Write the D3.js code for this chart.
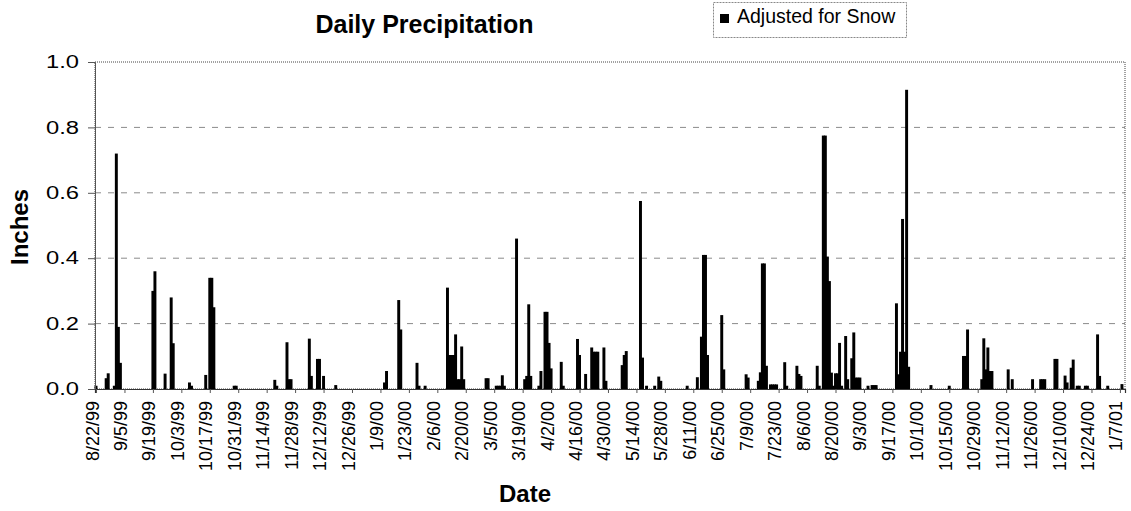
<!DOCTYPE html>
<html>
<head>
<meta charset="utf-8">
<script src="https://cdn.jsdelivr.net/npm/d3@7"></script>
<style>
  html, body { margin: 0; padding: 0; background: #fff; }
  svg { display: block; }
  text { font-family: "Liberation Sans", Arial, sans-serif; fill: #000; }
</style>
</head>
<body>
<svg id="chart" width="1131" height="511"></svg>
<script>
// ---- data ----
const dates = [
  "8/22/99","8/27/99","8/28/99","8/31/99","9/1/99","9/2/99","9/3/99",
  "9/19/99","9/20/99","9/25/99","9/28/99","9/29/99","10/7/99","10/8/99",
  "10/15/99","10/17/99","10/18/99","10/19/99","10/29/99","10/30/99",
  "11/18/99","11/19/99","11/24/99","11/25/99","11/26/99",
  "12/5/99","12/6/99","12/9/99","12/10/99","12/12/99","12/18/99",
  "1/11/00","1/12/00","1/18/00","1/19/00","1/27/00","1/28/00","1/31/00",
  "2/11/00","2/12/00","2/13/00","2/14/00","2/15/00","2/16/00","2/17/00","2/18/00","2/19/00",
  "3/1/00","3/2/00","3/6/00","3/7/00","3/8/00","3/9/00","3/10/00","3/16/00",
  "3/20/00","3/21/00","3/22/00","3/23/00","3/27/00","3/28/00","3/30/00","3/31/00",
  "4/1/00","4/2/00","4/7/00","4/8/00","4/15/00","4/16/00","4/19/00",
  "4/22/00","4/23/00","4/24/00","4/25/00","4/28/00","4/29/00",
  "5/7/00","5/8/00","5/9/00","5/16/00","5/17/00","5/19/00","5/23/00","5/25/00","5/26/00",
  "6/8/00","6/13/00","6/15/00","6/16/00","6/17/00","6/18/00","6/25/00","6/26/00",
  "7/7/00","7/8/00","7/13/00","7/14/00","7/15/00","7/16/00","7/17/00",
  "7/19/00","7/20/00","7/21/00","7/22/00","7/26/00","7/27/00",
  "8/1/00","8/2/00","8/3/00","8/11/00","8/12/00","8/14/00","8/15/00","8/16/00","8/17/00",
  "8/18/00","8/19/00","8/20/00","8/21/00","8/22/00","8/23/00","8/25/00","8/26/00",
  "8/28/00","8/29/00","8/30/00","8/31/00","9/1/00","9/5/00","9/7/00","9/8/00","9/9/00",
  "9/19/00","9/20/00","9/21/00","9/22/00","9/23/00","9/24/00","9/25/00",
  "10/6/00","10/15/00","10/22/00","10/23/00","10/24/00",
  "10/31/00","11/1/00","11/2/00","11/3/00","11/4/00","11/5/00","11/13/00","11/15/00",
  "11/25/00","11/29/00","11/30/00","12/1/00","12/6/00","12/7/00","12/11/00","12/12/00",
  "12/14/00","12/15/00","12/17/00","12/18/00","12/21/00","12/22/00","12/27/00","12/28/00",
  "1/1/01","1/8/01"
];
const inches = [
  0.01,0.033,0.048,0.01,0.72,0.19,0.08,
  0.30,0.36,0.047,0.28,0.14,0.02,0.01,
  0.043,0.34,0.34,0.25,0.01,0.01,
  0.028,0.01,0.143,0.03,0.03,
  0.154,0.04,0.092,0.092,0.04,0.012,
  0.02,0.055,0.272,0.182,0.08,0.01,0.01,
  0.31,0.104,0.104,0.104,0.167,0.03,0.03,0.13,0.03,
  0.033,0.033,0.01,0.01,0.01,0.042,0.01,0.46,
  0.03,0.04,0.259,0.04,0.01,0.055,0.236,0.236,
  0.141,0.063,0.083,0.01,0.153,0.104,0.046,
  0.127,0.114,0.114,0.114,0.127,0.025,
  0.073,0.104,0.116,0.575,0.096,0.01,0.01,0.038,0.025,
  0.01,0.036,0.16,0.41,0.41,0.104,0.226,0.06,
  0.045,0.035,0.025,0.051,0.384,0.384,0.071,
  0.014,0.014,0.014,0.014,0.082,0.01,
  0.071,0.046,0.04,0.071,0.01,0.775,0.775,0.405,0.33,
  0.05,0.01,0.048,0.048,0.141,0.01,0.162,0.03,
  0.094,0.173,0.035,0.035,0.035,0.01,0.012,0.012,0.012,
  0.262,0.045,0.114,0.52,0.114,0.915,0.068,
  0.012,0.01,0.101,0.101,0.182,
  0.03,0.155,0.06,0.127,0.055,0.055,0.06,0.03,
  0.03,0.03,0.03,0.03,0.092,0.092,0.041,0.02,
  0.065,0.09,0.01,0.01,0.01,0.01,0.167,0.04,
  0.01,0.015
];
const tickLabels = [
  "8/22/99","9/5/99","9/19/99","10/3/99","10/17/99","10/31/99","11/14/99","11/28/99",
  "12/12/99","12/26/99","1/9/00","1/23/00","2/6/00","2/20/00","3/5/00","3/19/00",
  "4/2/00","4/16/00","4/30/00","5/14/00","5/28/00","6/11/00","6/25/00","7/9/00",
  "7/23/00","8/6/00","8/20/00","9/3/00","9/17/00","10/1/00","10/15/00","10/29/00",
  "11/12/00","11/26/00","12/10/00","12/24/00","1/7/01"
];
const yTickValues = [0, 0.2, 0.4, 0.6, 0.8, 1.0];
const seriesName = "Adjusted for Snow";
const chartTitle = "Daily Precipitation";

// ---- layout ----
const svg = d3.select("#chart");
const pLeft = 95, pRight = 1125, pTop = 62, pBottom = 389;
const parse = d3.utcParse("%m/%d/%y");

const x = d3.scaleUtc()
  .domain([new Date(Date.UTC(1999, 7, 21, 12)), new Date(Date.UTC(2001, 0, 9, 12))])
  .range([pLeft, pRight]);
const y = d3.scaleLinear().domain([0, 1]).range([pBottom, pTop]);

const dayPx = x(new Date(Date.UTC(2000,0,2))) - x(new Date(Date.UTC(2000,0,1)));
const barW = dayPx * 1.45;

// gridlines
svg.append("g")
  .selectAll("line")
  .data(yTickValues.filter(v => v > 0 && v < 1))
  .join("line")
  .attr("x1", pLeft).attr("x2", pRight)
  .attr("y1", d => y(d)).attr("y2", d => y(d))
  .attr("stroke", "#8a8a8a").attr("stroke-width", 1)
  .attr("stroke-dasharray", "6,7");

// plot border (top/right dotted)
svg.append("rect")
  .attr("x", pLeft).attr("y", pTop)
  .attr("width", pRight - pLeft).attr("height", pBottom - pTop)
  .attr("fill", "none").attr("stroke", "#444")
  .attr("stroke-width", 1).attr("stroke-dasharray", "1,1");

// bars
const data = dates.map((d, i) => ({ date: parse(d), v: inches[i] }));
svg.append("g")
  .selectAll("rect")
  .data(data)
  .join("rect")
  .attr("x", d => x(d.date) - barW / 2)
  .attr("width", barW)
  .attr("y", d => y(d.v))
  .attr("height", d => y(0) - y(d.v))
  .attr("fill", "#000");

// y axis
const yAxis = svg.append("g").attr("transform", `translate(${pLeft},0)`)
  .call(d3.axisLeft(y).tickValues(yTickValues).tickFormat(d3.format(".1f")).tickSize(7).tickPadding(9));
yAxis.select(".domain").attr("stroke", "#555");
yAxis.selectAll(".tick line").attr("stroke", "#555");
yAxis.selectAll("text")
  .attr("font-size", 18)
  .attr("textLength", 33).attr("lengthAdjust", "spacingAndGlyphs")
  .style("font-family", '"Liberation Sans", Arial, sans-serif');

// x axis
const tickDates = tickLabels.map(parse);
const xAxis = svg.append("g").attr("transform", `translate(0,${pBottom})`)
  .call(d3.axisBottom(x).tickValues(tickDates).tickSize(4).tickFormat((d, i) => tickLabels[i]));
xAxis.select(".domain").attr("stroke", "#333").attr("stroke-width", 1.2);
xAxis.selectAll(".tick line").attr("stroke", "#555");
xAxis.selectAll(".tick text")
  .attr("font-size", 18)
  .style("font-family", '"Liberation Sans", Arial, sans-serif')
  .attr("text-anchor", "end")
  .attr("transform", "translate(-4.3,12) rotate(-90)")
  .attr("x", 0).attr("y", 0).attr("dy", "0.35em");

// axis titles
svg.append("text")
  .attr("transform", "translate(28,227) rotate(-90)")
  .attr("text-anchor", "middle")
  .attr("font-size", 24).attr("font-weight", "bold")
  .text("Inches");
svg.append("text")
  .attr("x", 525).attr("y", 502)
  .attr("text-anchor", "middle")
  .attr("font-size", 24).attr("font-weight", "bold")
  .text("Date");

// title
svg.append("text")
  .attr("x", 424.5).attr("y", 33)
  .attr("text-anchor", "middle")
  .attr("font-size", 25).attr("font-weight", "bold")
  .text(chartTitle);

// legend
const lg = svg.append("g");
lg.append("rect")
  .attr("x", 713.5).attr("y", 2.5).attr("width", 193).attr("height", 35)
  .attr("fill", "#fff").attr("stroke", "#888").attr("stroke-width", 1)
  .attr("stroke-dasharray", "2,1");
lg.append("rect")
  .attr("x", 720).attr("y", 14).attr("width", 9).attr("height", 9)
  .attr("fill", "#000");
lg.append("text")
  .attr("x", 737).attr("y", 23)
  .attr("font-size", 19.5)
  .text(seriesName);
</script>
</body>
</html>
